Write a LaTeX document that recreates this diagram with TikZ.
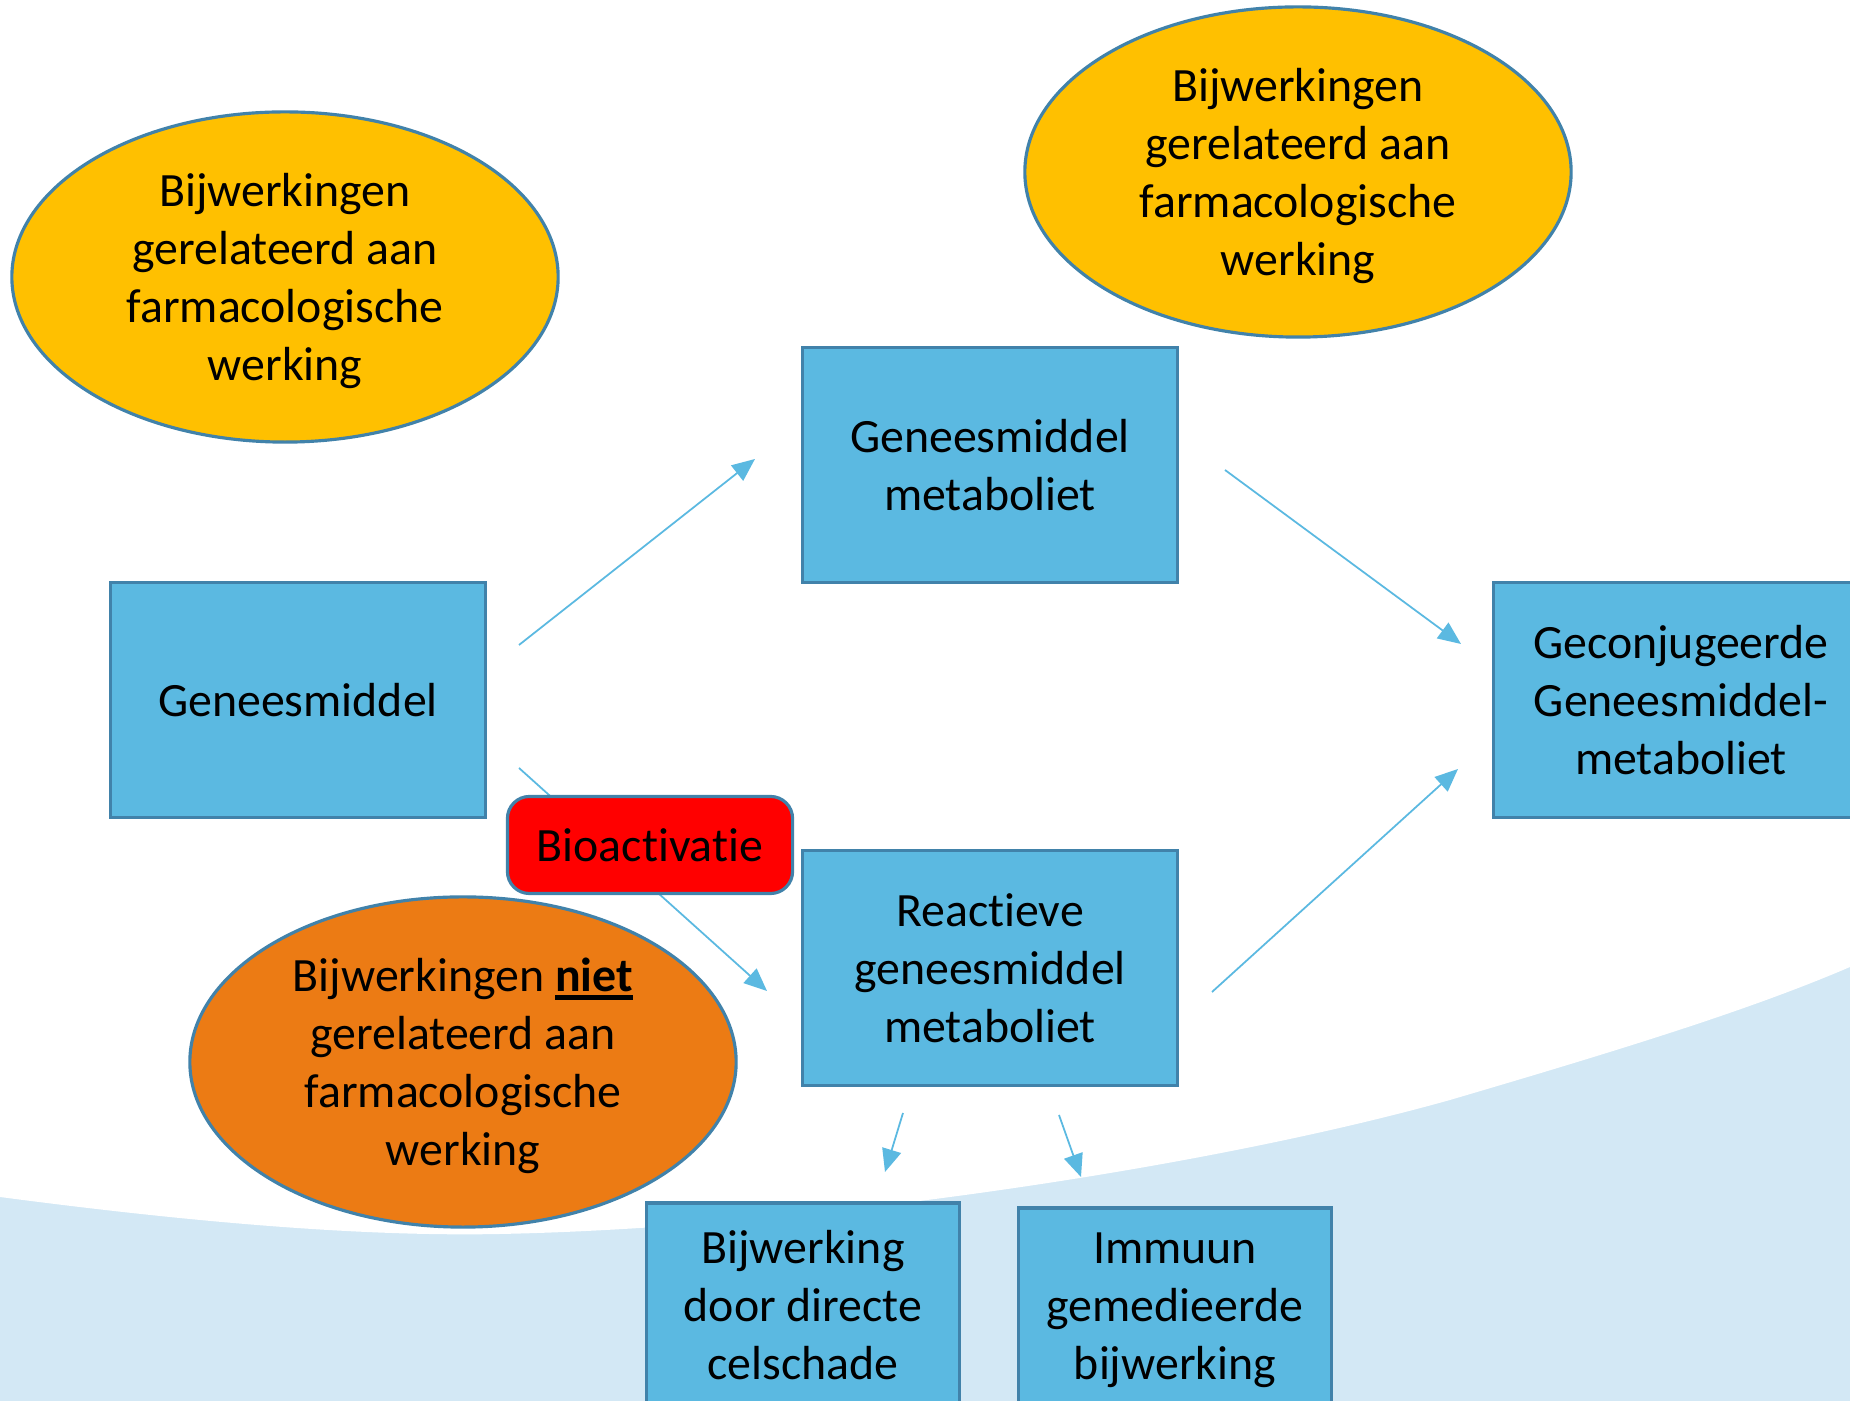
\documentclass[tikz,border=0pt]{standalone}
\usepackage{fontspec}
\setmainfont[Ligatures=NoCommon]{Carlito}
\usetikzlibrary{shapes.geometric,arrows.meta}
\definecolor{boxblue}{RGB}{91,185,225}
\definecolor{edgeblue}{RGB}{65,130,170}
\definecolor{arrowblue}{RGB}{91,185,225}
\definecolor{bgblue}{RGB}{211,232,245}
\definecolor{yell}{RGB}{255,192,0}
\definecolor{oran}{RGB}{236,123,20}
\definecolor{redbox}{RGB}{255,0,0}
\newcommand\thickul[1]{\leavevmode\vtop{\hbox{#1}\kern1.0pt\hrule height 1.3pt}}
\newcommand\elltext[1]{\raisebox{-1.4pt}[\height][\depth]{\begin{tabular}{@{}c@{}}#1\end{tabular}}}
\tikzset{
  fnt/.style={font=\fontsize{13.6}{16.5}\selectfont, text=black},
  txt/.style={fnt, align=center},
  boxnode/.style={txt, draw=edgeblue, line width=0.9pt, fill=boxblue, minimum width=3.75cm, minimum height=2.35cm, inner sep=0pt},
  smallbox/.style={txt, draw=edgeblue, line width=0.9pt, fill=boxblue, minimum width=3.12cm, minimum height=2.04cm, inner sep=0pt},
  ell/.style={fnt, ellipse, draw=edgeblue, line width=0.9pt, minimum width=5.46cm, minimum height=3.30cm, inner sep=0pt},
  conn/.style={draw=arrowblue, line width=0.5pt, -{Triangle[length=6.5pt,width=5.5pt]}},
}
\begin{document}
\begin{tikzpicture}[x=0.01cm,y=-0.01cm]
\useasboundingbox (0,0) rectangle (1850,1401);
\clip (0,0) rectangle (1850,1401);
\fill[bgblue] (0,0) rectangle (1850,1401);
\fill[white] (0,0) -- (0,1197) .. controls (250,1230) and (400,1236) .. (500,1234)
  .. controls (800,1228) and (1200,1170) .. (1450,1100)
  .. controls (1620,1050) and (1750,1010) .. (1850,967) -- (1850,0) -- cycle;

% ellipses
\node[ell, fill=yell] (e1) at (285,277) {\elltext{Bijwerkingen\\gerelateerd aan\\farmacologische\\werking}};
\node[ell, fill=yell] (e2) at (1298,172) {\elltext{Bijwerkingen\\gerelateerd aan\\farmacologische\\werking}};
\node[ell, fill=oran] (e3) at (463,1062) {\elltext{Bijwerkingen \thickul{\textbf{niet}}\\gerelateerd aan\\farmacologische\\werking}};

% boxes
\node[boxnode] (gm) at (298,700) {Geneesmiddel};
\node[boxnode] (gmm) at (990,465) {Geneesmiddel\\metaboliet};
\node[boxnode] (rgm) at (990,968) {Reactieve\\geneesmiddel\\metaboliet};
\node[boxnode] (ggm) at (1681,700) {Geconjugeerde\\Geneesmiddel-\\metaboliet};
\node[smallbox] (bdc) at (803,1305) {Bijwerking\\door directe\\celschade};
\node[smallbox] (imm) at (1175,1310) {Immuun\\gemedieerde\\bijwerking};

% arrow end points
\coordinate (a1s) at (519,645); \coordinate (a1e) at (755,459);
\coordinate (a2s) at (519,768); \coordinate (a2e) at (767,991);
\coordinate (a3s) at (1225,470); \coordinate (a3e) at (1461,644);
\coordinate (a4s) at (1212,992); \coordinate (a4e) at (1458,769);
\coordinate (a5s) at (903,1113); \coordinate (a5e) at (885,1172);
\coordinate (a6s) at (1059,1115); \coordinate (a6e) at (1081,1177);

\draw[conn] (a1s) -- (a1e);
\draw[conn] (a2s) -- (a2e);
\draw[conn] (a3s) -- (a3e);
\draw[conn] (a4s) -- (a4e);
\draw[conn] (a5s) -- (a5e);
\draw[conn] (a6s) -- (a6e);

\node[txt, draw=edgeblue, line width=0.9pt, fill=redbox, rounded corners=0.22cm, minimum width=2.85cm, minimum height=0.97cm, inner sep=0pt] (bio) at (650,845) {Bioactivatie};
\end{tikzpicture}
\end{document}
